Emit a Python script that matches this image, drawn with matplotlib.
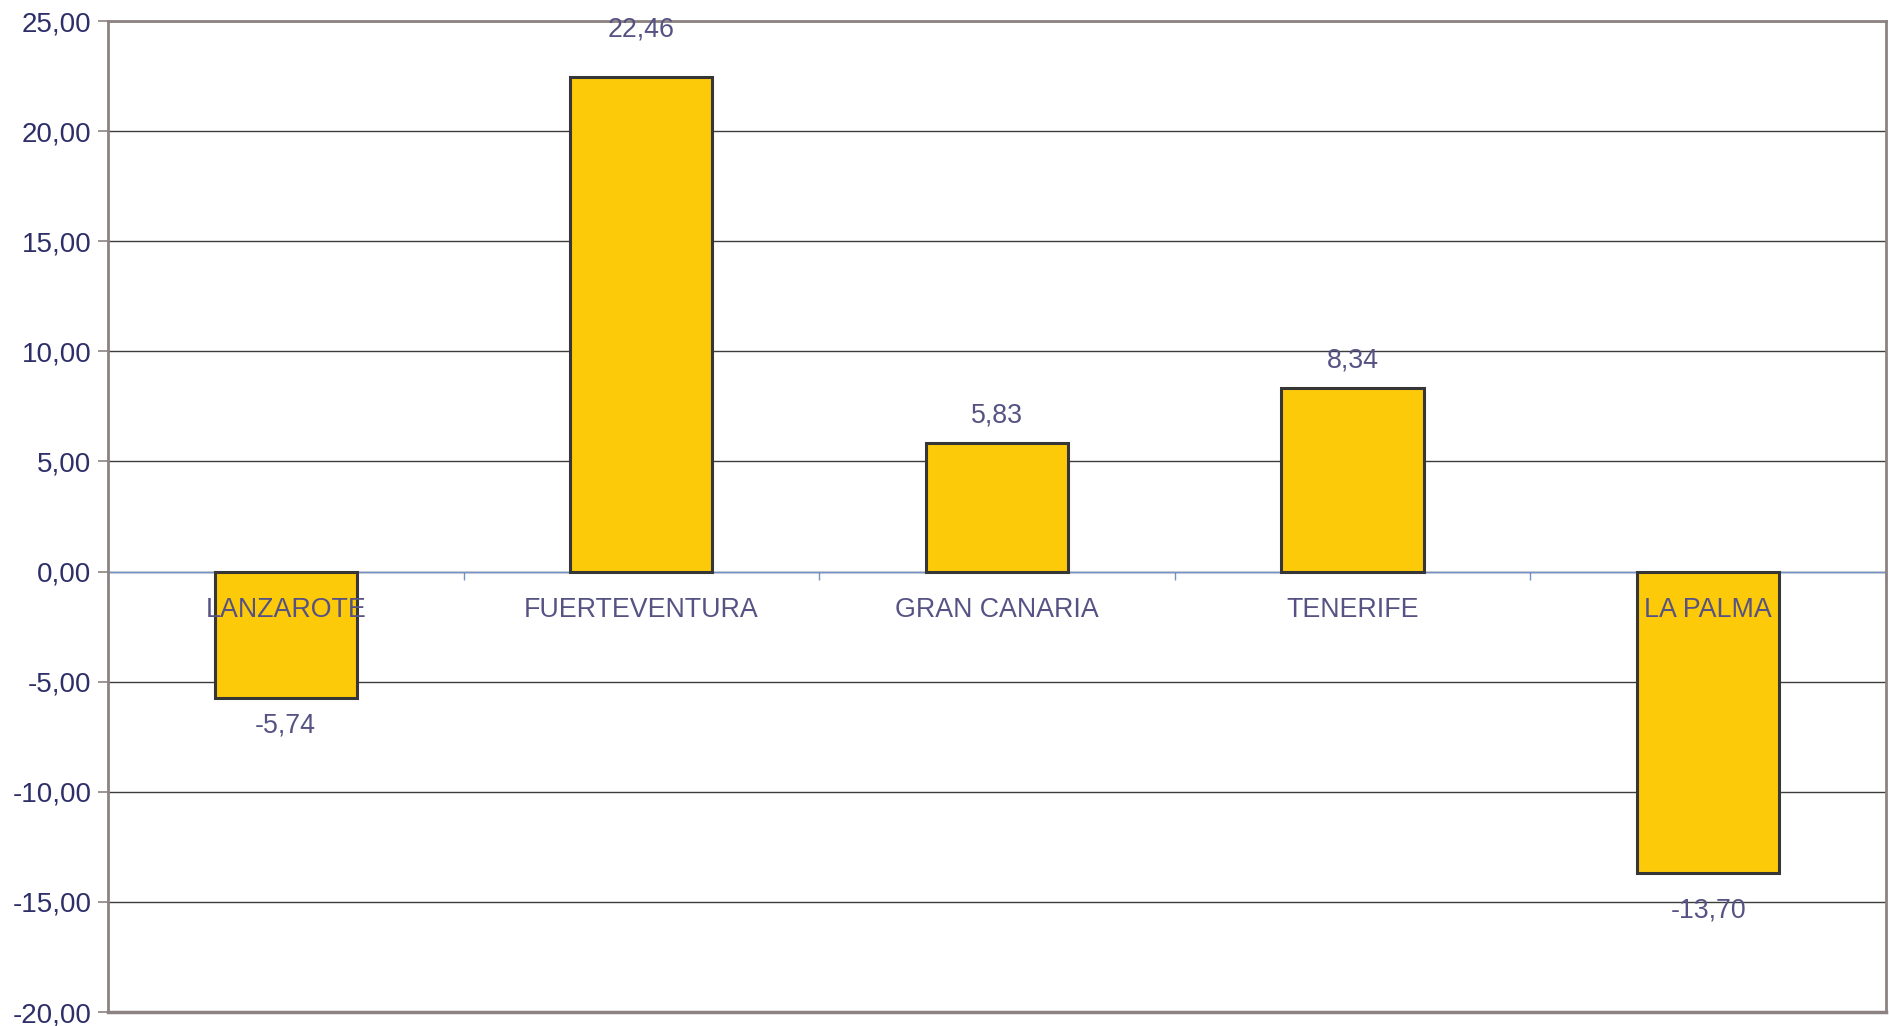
import matplotlib.pyplot as plt
from matplotlib.ticker import FixedLocator, FuncFormatter

# -----------------------------
# Данные
# -----------------------------
islands = ["LANZAROTE", "FUERTEVENTURA", "GRAN CANARIA", "TENERIFE", "LA PALMA"]
values = [-5.74, 22.46, 5.83, 8.34, -13.70]

y_min, y_max, y_step = -20, 25, 5

# Цвета
bar_color = "#FCCA08"
edge_color = "#363636"
grid_color = "#3c3c3c"
frame_color = "#8c8282"
zero_color = "#7393c9"
label_color = "#565384"
ytick_color = "#2e2f69"

# Смещения подписей значений (в пунктах), как в оригинале
label_offsets = [-20, 34.5, 20, 20, -27]


def fmt_es(v: float) -> str:
    # десятичная запятая, как в оригинале
    return f"{v:.2f}".replace(".", ",")


plt.rcParams["font.family"] = ["Liberation Sans", "DejaVu Sans"]

fig = plt.figure(figsize=(18.9, 10.26), dpi=100)
ax = fig.add_axes([0.0571, 0.0136, 0.9408, 0.9659])

x = list(range(len(islands)))
ax.bar(x, values, width=0.4, color=bar_color, edgecolor=edge_color,
       linewidth=2.2, zorder=2)

ax.set_xlim(-0.5, len(islands) - 0.5)
ax.set_ylim(y_min, y_max)

# Сетка по Y
yticks = list(range(y_min, y_max + 1, y_step))
ax.yaxis.set_major_locator(FixedLocator(yticks))
ax.yaxis.set_major_formatter(FuncFormatter(lambda v, _: fmt_es(v)))
ax.set_axisbelow(True)
ax.grid(axis="y", color=grid_color, linewidth=1.0)
ax.tick_params(axis="y", direction="out", length=7, width=1.2,
               color=frame_color, labelsize=20, labelcolor=ytick_color, pad=5)

# Ось X проходит через ноль
ax.spines["bottom"].set_position(("data", 0))
ax.spines["bottom"].set_color(zero_color)
ax.spines["bottom"].set_linewidth(1.0)
ax.spines["bottom"].set_zorder(1.5)
ax.xaxis.set_major_locator(FixedLocator([i - 0.5 for i in range(len(islands) + 1)]))
ax.xaxis.set_major_formatter(FuncFormatter(lambda v, _: ""))
ax.tick_params(axis="x", direction="out", length=6, width=1.0, color=zero_color)

for side in ("left", "top", "right"):
    ax.spines[side].set_color(frame_color)
    ax.spines[side].set_linewidth(2.0)
# Нижняя рамка (спина bottom занята нулевой линией)
ax.axhline(y_min, color=frame_color, linewidth=2.5, clip_on=False, zorder=3)

# Подписи категорий под нулевой линией
for xi, name in zip(x, islands):
    ax.annotate(name, (xi, 0), xytext=(0, -27.5), textcoords="offset points",
                ha="center", va="center", fontsize=19.3, color=label_color,
                zorder=5)

# Подписи значений
for xi, v, off in zip(x, values, label_offsets):
    ax.annotate(fmt_es(v), (xi, v), xytext=(0, off), textcoords="offset points",
                ha="center", va="center", fontsize=19.3, color=label_color,
                zorder=5, annotation_clip=False)

fig.savefig("out.png", dpi=100)
